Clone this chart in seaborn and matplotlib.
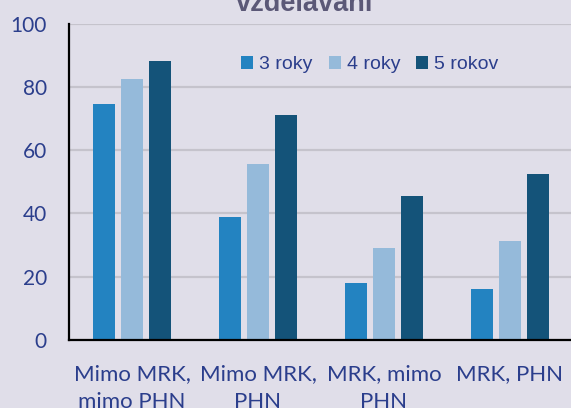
import matplotlib
matplotlib.use("Agg")
import matplotlib.pyplot as plt
import seaborn as sns
import pandas as pd

categories = ["Mimo MRK,\nmimo PHN", "Mimo MRK,\nPHN", "MRK, mimo\nPHN", "MRK, PHN"]
series = ["3 roky", "4 roky", "5 rokov"]
v3 = [74.6, 38.9, 18.0, 16.1]
v4 = [82.6, 55.6, 29.1, 31.3]
v5 = [88.0, 71.1, 45.5, 52.4]
yticks = [0, 20, 40, 60, 80, 100]
title = "vzdelávaní"

colors = ["#2383C1", "#95BADA", "#145379"]
bg = "#E0DEE9"
txt = "#2B3E8C"

rows = []
for s, vals in zip(series, [v3, v4, v5]):
    for c, v in zip(categories, vals):
        rows.append({"cat": c, "series": s, "val": v})
df = pd.DataFrame(rows)

sns.set_theme(style="white")
plt.rcParams["font.family"] = ["Lato", "DejaVu Sans"]

fig = plt.figure(figsize=(5.71, 4.08), dpi=100, facecolor=bg)
ax = fig.add_axes([69/571, 68/408, 504/571, 316.5/408])
ax.set_facecolor(bg)

sns.barplot(data=df, x="cat", y="val", hue="series", palette=colors, ax=ax,
            width=0.667, gap=0.21, saturation=1, edgecolor="none", zorder=3)

ax.set_ylim(0, 100)
ax.set_xlim(-0.5, 3.5)
ax.set_yticks(yticks)
ax.set_yticklabels([str(t) for t in yticks])
ax.yaxis.grid(True, color="#C5C3CC", linewidth=1.6, zorder=0)
ax.set_axisbelow(True)
ax.set_xlabel("")
ax.set_ylabel("")
for sp in ["top", "right"]:
    ax.spines[sp].set_visible(False)
for sp in ["left", "bottom"]:
    ax.spines[sp].set_color("black")
    ax.spines[sp].set_linewidth(1.6)
    ax.spines[sp].set_zorder(4)
ax.tick_params(axis="y", length=0, pad=16, labelsize=15, labelcolor=txt)
ax.tick_params(axis="x", length=0, pad=17, labelsize=16, labelcolor=txt)
for lab in ax.get_xticklabels():
    lab.set_linespacing(1.55)

leg = ax.legend(loc="center", bbox_to_anchor=(0.597, 0.87), ncol=3, frameon=False,
                prop={"family": "Liberation Sans", "size": 14},
                handlelength=0.62, handleheight=0.62, handletextpad=0.31,
                columnspacing=0.82, borderpad=0, borderaxespad=0)
for t in leg.get_texts():
    t.set_color(txt)

fig.text(305/571, (408-11)/408, title, ha="center", va="baseline",
         fontsize=19.5, fontweight="bold", color="#5B5877", family="Liberation Sans")

fig.savefig("out.png", dpi=100, facecolor=bg)
